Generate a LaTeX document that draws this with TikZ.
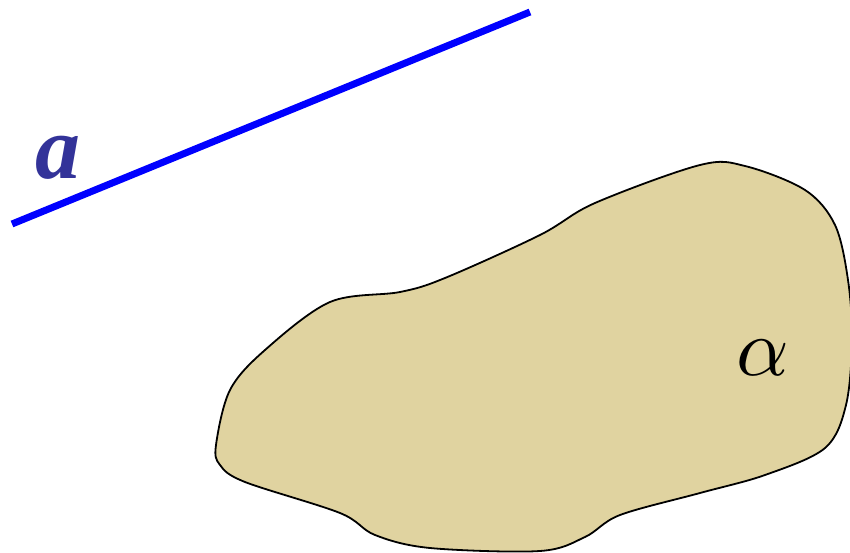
\documentclass[tikz,border=0pt]{standalone}
\usepackage{fontspec}
\usepackage{graphicx}
\newfontfamily\timesfont{Liberation Serif}
\definecolor{planefill}{RGB}{224,211,160}
\definecolor{labelblue}{RGB}{51,51,153}
\definecolor{lineblue}{RGB}{0,0,255}
\tikzset{
  linea/.style={draw=lineblue, line width=7pt},
  plane/.style={draw=black, line width=1.8pt, fill=planefill},
}
\begin{document}
\begin{tikzpicture}[x=1pt,y=-1pt]
\useasboundingbox (0,0) rectangle (850,553);
\clip (0,0) rectangle (850,553);
% plane alpha
\path[plane] plot[smooth cycle, tension=0.55] coordinates {
  (216,445) (230,390) (265,350) (330,302) (400,292) (445,278)
  (540,235) (595,203) (700,165) (745,166) (805,190) (835,225)
  (848,280) (852,340) (846,405) (825,448) (765,475) (700,493)
  (620,515) (585,537) (540,551) (430,548) (375,535) (340,513)
  (245,482) (220,465)};
\node (alpha) at (763,358) {\scalebox{8.2}{$\alpha$}};
% line a
\coordinate (a1) at (12,224);
\coordinate (a2) at (530,12);
\draw[linea] (a1) -- (a2);
\node[text=labelblue, font=\timesfont\bfseries\itshape\fontsize{90}{90}\selectfont] (alab) at (58,158) {a};
\end{tikzpicture}
\end{document}
